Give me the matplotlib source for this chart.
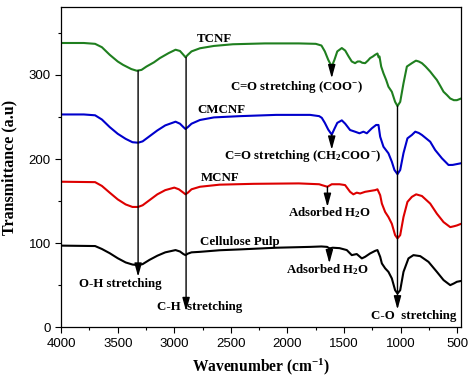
import matplotlib
matplotlib.use("Agg")
import matplotlib.pyplot as plt
from matplotlib.ticker import MultipleLocator

plt.rcParams['mathtext.fontset'] = 'custom'
plt.rcParams['mathtext.rm'] = 'Liberation Serif:bold'
plt.rcParams['mathtext.bf'] = 'Liberation Serif:bold'
plt.rcParams['mathtext.it'] = 'Liberation Serif:bold'

# ---- data ----
tcnf_x = [4000, 3800, 3700, 3640, 3571, 3500, 3453, 3380, 3332, 3290, 3246, 3180, 3128, 3050, 2989, 2950, 2920, 2901, 2880, 2848, 2774, 2650, 2482, 2200, 1900, 1750, 1700, 1670, 1640, 1609, 1585, 1560, 1520, 1490, 1460, 1432, 1403, 1380, 1359, 1340, 1314, 1290, 1270, 1245, 1225, 1205, 1195, 1187, 1172, 1152, 1128, 1108, 1078, 1049, 1028, 1004, 975, 945, 901, 865, 840, 812, 780, 739, 710, 680, 650, 621, 590, 562, 530, 503, 465]
tcnf_y = [338, 338, 337, 333, 324, 316, 312, 307, 305, 306, 310, 315, 320, 326, 330, 328.5, 324, 321, 324, 328, 331.7, 334.5, 336.5, 337.5, 337.5, 337, 335, 328, 318, 310, 318, 328, 332, 329, 322, 316, 314, 316, 316, 314.5, 314, 317, 320, 322, 324, 325.5, 321, 322, 310, 302, 294, 286, 280, 268, 263, 268, 290, 310, 314, 317, 316, 314, 310, 304, 299, 294, 287, 280, 276, 272, 270, 270, 272]

cmcnf_x = [4000, 3800, 3700, 3640, 3571, 3500, 3430, 3370, 3320, 3280, 3220, 3150, 3080, 2989, 2950, 2920, 2901, 2880, 2848, 2774, 2650, 2420, 2100, 1800, 1720, 1697, 1670, 1640, 1609, 1585, 1560, 1520, 1490, 1447, 1403, 1364, 1329, 1299, 1255, 1217, 1196, 1181, 1152, 1108, 1078, 1055, 1028, 1004, 975, 940, 901, 871, 840, 812, 739, 695, 635, 577, 540, 503, 465]
cmcnf_y = [253, 253, 252, 247, 238, 230, 224, 220, 219.4, 221, 227, 234, 240, 244.4, 242, 238, 235.7, 238, 242, 246.4, 249.5, 251, 252.5, 252.5, 251, 249, 243, 235, 229, 236, 243, 246, 242, 234.5, 232.5, 230.6, 232.5, 230.6, 236.5, 240.5, 240.5, 226.5, 214.6, 206.8, 196.8, 187, 182, 187, 207, 224.6, 228.6, 232.5, 231, 228.6, 220.6, 210.7, 200.8, 192.9, 193, 194, 195]

mcnf_x = [4000, 3700, 3640, 3571, 3500, 3430, 3370, 3320, 3280, 3220, 3150, 3080, 3000, 2960, 2920, 2901, 2880, 2848, 2774, 2600, 2300, 1900, 1720, 1697, 1647, 1609, 1540, 1491, 1447, 1418, 1388, 1358, 1314, 1270, 1225, 1205, 1181, 1166, 1137, 1108, 1078, 1049, 1028, 1004, 975, 940, 901, 863, 812, 739, 680, 621, 562, 530, 503, 465]
mcnf_y = [173, 172.5, 168, 160, 152, 146, 143, 143, 145, 151, 158, 163, 166, 164, 160, 158, 160, 164, 167, 169.5, 170.5, 171, 170, 169, 167, 170, 170, 169, 161, 158, 160, 159, 161, 162, 163, 164, 157, 147, 137, 131, 123, 109.5, 105.6, 109.5, 131, 149, 155, 158, 156, 147, 135, 125, 119, 120, 121, 123]

pulp_x = [4000, 3700, 3640, 3571, 3500, 3430, 3370, 3320, 3280, 3220, 3150, 3080, 2989, 2950, 2920, 2901, 2880, 2848, 2774, 2600, 2420, 2100, 1800, 1700, 1650, 1630, 1600, 1540, 1476, 1432, 1388, 1343, 1314, 1270, 1225, 1205, 1181, 1166, 1137, 1108, 1078, 1049, 1028, 1004, 975, 931, 887, 827, 754, 680, 621, 562, 530, 503, 465]
pulp_y = [97, 96.5, 93, 88, 82, 77, 74.5, 73.8, 75, 80, 85, 89, 91.7, 90, 87, 85.7, 87.5, 89, 89.6, 91.5, 92.5, 94.5, 95.5, 96, 95.5, 93.7, 94.5, 94, 91.7, 85.7, 87, 81.8, 83.7, 87.7, 90.8, 91.7, 83.7, 75.8, 70, 65.8, 58, 44, 40, 44, 65.8, 81.8, 85.7, 84.5, 77.7, 65.8, 56, 50, 52, 54, 55]

series_names = ["TCNF", "CMCNF", "MCNF", "Cellulose Pulp"]
series_colors = ["#1f7f1f", "#0000cc", "#dd0000", "#000000"]

xticks = [4000, 3500, 3000, 2500, 2000, 1500, 1000, 500]
yticks = [0, 100, 200, 300]

fig = plt.figure(figsize=(4.74, 3.80), dpi=100)
ax = fig.add_axes([0.129, 0.139, 0.844, 0.843])

for xs, ys, c in zip([tcnf_x, cmcnf_x, mcnf_x, pulp_x], [tcnf_y, cmcnf_y, mcnf_y, pulp_y], series_colors):
    ax.plot(xs, ys, color=c, lw=1.5, solid_joinstyle='round')

ax.set_xlim(4000, 465)
ax.set_ylim(0, 381)
ax.set_xticks(xticks)
ax.set_xticklabels([str(t) for t in xticks])
ax.set_yticks(yticks)
ax.set_yticklabels([str(t) for t in yticks])
ax.xaxis.set_minor_locator(MultipleLocator(250))
ax.yaxis.set_minor_locator(MultipleLocator(50))
ax.tick_params(which='both', direction='out', top=False, right=False, labelsize=9.5, width=0.8)
ax.tick_params(which='major', length=4)
ax.tick_params(which='minor', length=2.5)
for lab in ax.get_xticklabels() + ax.get_yticklabels():
    lab.set_fontfamily('Liberation Sans')
for sp in ax.spines.values():
    sp.set_linewidth(0.9)

serif = dict(family='Liberation Serif', fontweight='bold')
ax.set_xlabel('Wavenumber (cm$^{-1}$)', fontsize=11.2, labelpad=5, **serif)
ax.set_ylabel('Transmittance (a.u)', fontsize=11.5, labelpad=8, **serif)

fs = 9.3
# curve labels
ax.text(2642, 342.5, series_names[0], ha='center', va='center', fontsize=fs, **serif)
ax.text(2584, 258, series_names[1], ha='center', va='center', fontsize=fs, **serif)
ax.text(2593, 177, series_names[2], ha='center', va='center', fontsize=fs, **serif)
ax.text(2420, 101.5, series_names[3], ha='center', va='center', fontsize=fs, **serif)

ap = dict(arrowstyle='-|>,head_length=0.8,head_width=0.22', color='k', lw=1.0,
          shrinkA=0, shrinkB=0, mutation_scale=10)
# long vertical arrows
ax.annotate('', xy=(3320, 60), xytext=(3320, 305), arrowprops=ap)
ax.annotate('', xy=(2896, 19), xytext=(2896, 321), arrowprops=ap)
ax.annotate('', xy=(1028, 21), xytext=(1028, 263), arrowprops=ap)
# short arrows
ax.annotate('', xy=(1609, 296), xytext=(1609, 310), arrowprops=ap)
ax.annotate('', xy=(1609, 211), xytext=(1609, 229), arrowprops=ap)
ax.annotate('', xy=(1647, 143), xytext=(1647, 167), arrowprops=ap)
ax.annotate('', xy=(1630, 76), xytext=(1630, 94), arrowprops=ap)

ax.text(3473, 51, "O-H stretching", ha='center', va='center', fontsize=fs, **serif)
ax.text(3155, 24, "C-H  stretching", ha='left', va='center', fontsize=fs, **serif)
ax.text(1261, 13, "C-O  stretching", ha='left', va='center', fontsize=fs, **serif)
ax.text(1920, 286, "C=O stretching (COO$^{-}$)", ha='center', va='center', fontsize=fs, **serif)
ax.text(1867, 203.5, "C=O stretching (CH$_{2}$COO$^{-}$)", ha='center', va='center', fontsize=fs, **serif)
ax.text(1628, 135.7, "Adsorbed H$_{2}$O", ha='center', va='center', fontsize=fs, **serif)
ax.text(1650, 67.9, "Adsorbed H$_{2}$O", ha='center', va='center', fontsize=fs, **serif)

fig.savefig("out.png", dpi=100)
